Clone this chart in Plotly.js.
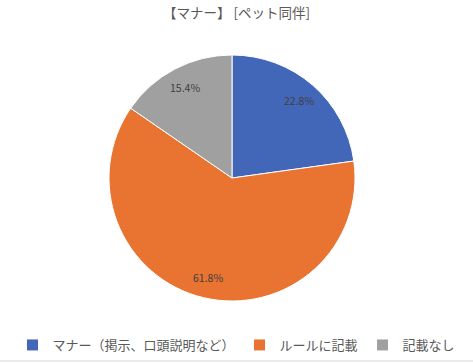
<!DOCTYPE html>
<html><head><meta charset="utf-8">
<script src="https://cdn.plot.ly/plotly-3.0.1.min.js"></script>
<style>html,body{margin:0;padding:0;background:#fff}#chart{width:473px;height:363px}</style>
</head><body><div id="chart"></div>
<script>
const labels = ["マナー（掲示、口頭説明など）", "ルールに記載", "記載なし"];
const values = [22.8, 61.8, 15.4];
const colors = ["#4267B8", "#E97331", "#A0A0A0"];
const W = 473, H = 363;
const dom = {x: [109/W, 355/W], y: [1 - 301/H, 1 - 55/H]};
const FONT = "Noto Sans CJK JP, sans-serif";

// label positions computed from the data (slice mid-angles, clockwise from 12 o'clock)
const total = values.reduce((a, b) => a + b, 0);
const cx = (dom.x[0] + dom.x[1]) / 2, cy = (dom.y[0] + dom.y[1]) / 2;
const rx = (dom.x[1] - dom.x[0]) / 2, ry = (dom.y[1] - dom.y[0]) / 2;
const labelRadius = 0.83;
let cum = 0;
const annotations = values.map(v => {
  const mid = (cum + v / 2) / total * 2 * Math.PI;
  cum += v;
  return {
    xref: "paper", yref: "paper", showarrow: false,
    x: cx + Math.sin(mid) * rx * labelRadius,
    y: cy + Math.cos(mid) * ry * labelRadius,
    xanchor: "center", yanchor: "middle",
    text: v.toFixed(1) + "%",
    font: {family: FONT, size: 10.5, color: "#404040"}
  };
});

const data = [{
  type: "pie",
  labels: labels,
  values: values,
  sort: false,
  direction: "clockwise",
  rotation: 0,
  marker: {colors: colors, line: {color: "#ffffff", width: 1}},
  textinfo: "none",
  hoverinfo: "none",
  domain: dom
}];
const layout = {
  width: W, height: H,
  margin: {l: 0, r: 0, t: 0, b: 0},
  paper_bgcolor: "#fff",
  title: {text: "【マナー】 [ペット同伴]", font: {family: FONT, size: 13.5, color: "#595959"}, x: 0.5, xanchor: "center", y: 1 - 13/H, yanchor: "middle"},
  showlegend: true,
  legend: {orientation: "h", x: 0.5, xanchor: "center", y: 1 - 345/H, yanchor: "middle",
    font: {family: FONT, size: 13, color: "#595959"}, itemwidth: 30, traceorder: "normal"},
  annotations: annotations,
  shapes: [{type: "line", xref: "paper", yref: "paper", x0: 0, x1: 1, y0: 2/H, y1: 2/H, line: {color: "#d9d9d9", width: 1}}]
};
Plotly.newPlot("chart", data, layout, {staticPlot: true});
</script></body></html>
